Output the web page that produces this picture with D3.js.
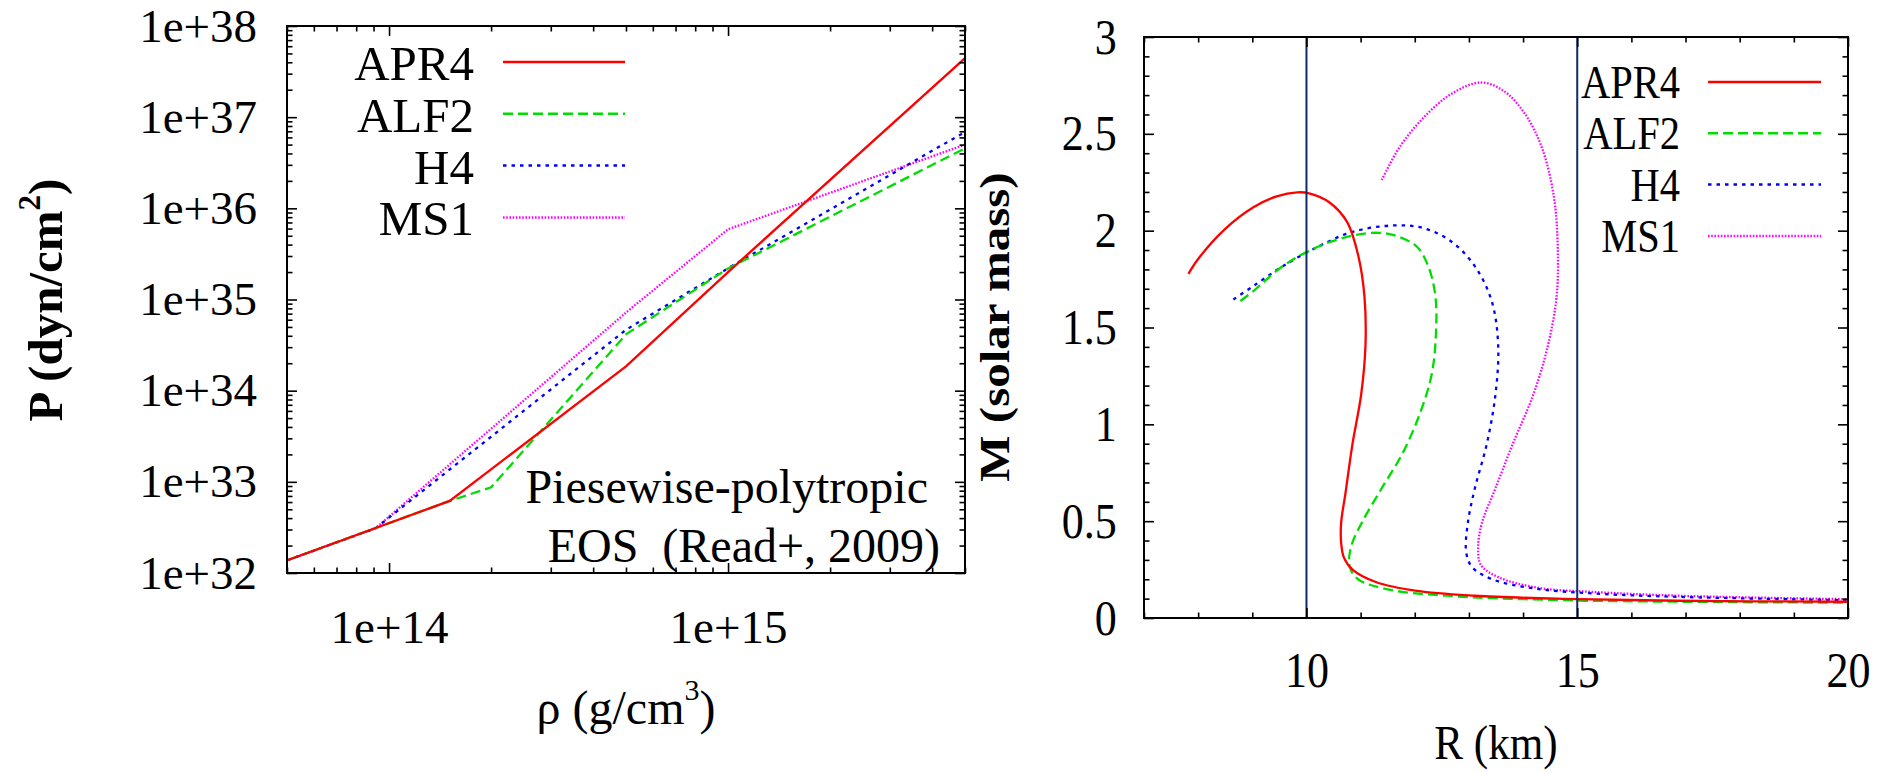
<!DOCTYPE html>
<html>
<head>
<meta charset="utf-8">
<script src="https://cdn.jsdelivr.net/npm/d3@7"></script>
<style>
  body { margin: 0; background: #fff; }
  svg { display: block; }
</style>
</head>
<body>
<svg id="chart"></svg>
<script>
// ---- data ----
const eosNames = ['APR4', 'ALF2', 'H4', 'MS1'];

// left panel: rho (g/cm^3) vs P (dyn/cm^2)
const apr4Rho = [5.01e13, 1.51e14, 5.01e14, 1.0e15, 5.01e15];
const apr4P   = [1.38e32, 6.17e32, 1.86e34, 2.0e35, 4.47e37];
const alf2Rho = [5.01e13, 1.51e14, 2.0e14, 5.01e14, 1.0e15, 5.01e15];
const alf2P   = [1.38e32, 6.17e32, 8.71e32, 4.17e34, 2.19e35, 4.57e36];
const h4Rho   = [5.01e13, 9.12e13, 5.01e14, 1.0e15, 5.01e15];
const h4P     = [1.38e32, 3.09e32, 4.68e34, 2.2e35, 6.92e36];
const ms1Rho  = [5.01e13, 9.12e13, 5.01e14, 1.0e15, 5.01e15];
const ms1P    = [1.38e32, 3.09e32, 7.24e34, 5.89e35, 5.01e36];

const rhoTicks = [1e14, 1e15];
const pTicks = [1e32, 1e33, 1e34, 1e35, 1e36, 1e37, 1e38];

// right panel: R (km) vs M (solar mass)
const apr4R = [7.82, 8.00, 8.49, 9.02, 9.45, 9.83, 10.05, 10.42, 10.75, 10.96, 11.07, 11.09, 11.01, 10.85, 10.72, 10.64, 10.64, 10.69, 10.85, 11.28, 12.04, 13.11, 14.73, 16.88, 20.0];
const apr4M = [1.777, 1.854, 2.007, 2.121, 2.177, 2.198, 2.193, 2.147, 2.045, 1.867, 1.663, 1.408, 1.154, 0.899, 0.644, 0.491, 0.390, 0.313, 0.250, 0.186, 0.140, 0.115, 0.099, 0.089, 0.084];
const alf2R = [8.78, 9.02, 9.56, 10.21, 10.85, 11.34, 11.71, 12.04, 12.25, 12.38, 12.39, 12.31, 12.09, 11.77, 11.39, 11.02, 10.82, 10.80, 10.96, 11.50, 12.58, 14.73, 16.88, 20.0];
const alf2M = [1.637, 1.688, 1.816, 1.917, 1.974, 1.989, 1.968, 1.917, 1.816, 1.663, 1.459, 1.255, 1.052, 0.848, 0.670, 0.491, 0.364, 0.262, 0.199, 0.148, 0.115, 0.092, 0.084, 0.079];
const h4R = [8.65, 9.02, 9.56, 10.21, 10.85, 11.61, 12.15, 12.68, 13.11, 13.42, 13.54, 13.49, 13.33, 13.11, 12.98, 12.95, 13.06, 13.44, 14.19, 15.27, 16.88, 20.0];
const h4M = [1.645, 1.714, 1.816, 1.917, 1.994, 2.027, 2.014, 1.943, 1.816, 1.637, 1.408, 1.154, 0.899, 0.670, 0.491, 0.339, 0.262, 0.199, 0.153, 0.127, 0.109, 0.092];
const ms1R = [11.39, 11.71, 12.15, 12.68, 13.22, 13.65, 14.03, 14.35, 14.57, 14.64, 14.62, 14.46, 14.19, 13.81, 13.49, 13.24, 13.17, 13.22, 13.54, 14.30, 15.27, 16.88, 20.0];
const ms1M = [2.261, 2.427, 2.580, 2.707, 2.765, 2.720, 2.605, 2.427, 2.172, 1.917, 1.663, 1.408, 1.154, 0.899, 0.670, 0.491, 0.364, 0.275, 0.211, 0.155, 0.135, 0.115, 0.097];

const radiusTicks = [10, 15, 20];
const massTicks = [0, 0.5, 1, 1.5, 2, 2.5, 3];
const radiusMarks = [10, 15];

// ---- styles ----
const serif = 'Liberation Serif';
const lineStyle = {
  APR4: {color: '#ff0000', dash: null},
  ALF2: {color: '#00dd00', dash: '10,5'},
  H4:   {color: '#0000ff', dash: '3.5,5'},
  MS1:  {color: '#ff00ff', dash: '1.6,1.6'}
};

const svg = d3.select('#chart').attr('width', 1893).attr('height', 773);

function zipPts(xs, ys) { return xs.map((v, i) => [v, ys[i]]); }

function addText(g, size) {
  return g.append('text').attr('font-family', serif).attr('font-size', size).attr('fill', '#000');
}

function tickLayer(g, makeAxis, transform, values, len, fmt, pad) {
  const axis = makeAxis().tickValues(values).tickSizeInner(-len).tickSizeOuter(0)
      .tickPadding(pad || 0).tickFormat(fmt || (() => ''));
  const layer = g.append('g').attr('transform', transform).call(axis);
  layer.select('.domain').remove();
  layer.selectAll('.tick line').attr('stroke', '#000').attr('stroke-width', 1.6);
  return layer;
}

function notMajor(majors) {
  return v => !majors.some(t => Math.abs(t - v) <= Math.abs(t) * 1e-9 + 1e-9);
}

function drawFrame(g, x, y, c) {
  const b = c.box;
  const xMinor = c.xMinor.filter(notMajor(c.xTicks));
  const yMinor = c.yMinor.filter(notMajor(c.yTicks));

  tickLayer(g, () => d3.axisBottom(x), `translate(0,${b.bottom})`, xMinor, 5.5);
  tickLayer(g, () => d3.axisTop(x), `translate(0,${b.top})`, xMinor, 5.5);
  tickLayer(g, () => d3.axisLeft(y), `translate(${b.left},0)`, yMinor, 5.5);
  tickLayer(g, () => d3.axisRight(y), `translate(${b.right},0)`, yMinor, 5.5);
  tickLayer(g, () => d3.axisTop(x), `translate(0,${b.top})`, c.xTicks, 10);
  tickLayer(g, () => d3.axisRight(y), `translate(${b.right},0)`, c.yTicks, 10);

  const xl = tickLayer(g, () => d3.axisBottom(x), `translate(0,${b.bottom})`, c.xTicks, 10, c.fmt, c.xPad);
  const yl = tickLayer(g, () => d3.axisLeft(y), `translate(${b.left},0)`, c.yTicks, 10, c.fmt, c.yPad);
  [xl, yl].forEach(l => {
    l.attr('font-family', serif).attr('font-size', c.tickFont);
    l.selectAll('.tick text')
      .attr('font-family', serif).attr('font-size', c.tickFont).attr('fill', '#000')
      .attr('transform', c.squeeze === 1 ? null : `scale(${c.squeeze},1)`);
  });

  g.append('rect')
    .attr('x', b.left).attr('y', b.top)
    .attr('width', b.right - b.left).attr('height', b.bottom - b.top)
    .attr('fill', 'none').attr('stroke', '#000').attr('stroke-width', 2);
}

function drawLegend(g, c) {
  eosNames.forEach((name, i) => {
    const yy = c.top + i * c.step;
    addText(g, c.font)
      .attr('transform', `translate(${c.textRight},${yy + c.baseline}) scale(${c.squeeze},1)`)
      .attr('text-anchor', 'end').text(name);
    g.append('line')
      .attr('x1', c.x1).attr('x2', c.x2).attr('y1', yy).attr('y2', yy)
      .attr('stroke', lineStyle[name].color).attr('stroke-width', 2.5)
      .attr('stroke-dasharray', lineStyle[name].dash);
  });
}

// ---- left panel: EOS ----
const left = {
  box: {left: 287, right: 965, top: 26, bottom: 573},
  tickFont: 47, squeeze: 1, xPad: 37, yPad: 30,
  fmt: d => '1e+' + Math.round(Math.log10(d))
};
const xL = d3.scaleLog().domain([5e13, 5e15]).range([left.box.left, left.box.right]);
const yL = d3.scaleLog().domain([1e32, 1e38]).range([left.box.bottom, left.box.top]);
left.xTicks = rhoTicks; left.yTicks = pTicks;
left.xMinor = xL.ticks(); left.yMinor = yL.ticks();

const gL = svg.append('g');
svg.append('clipPath').attr('id', 'clipL').append('rect')
  .attr('x', left.box.left).attr('y', left.box.top)
  .attr('width', left.box.right - left.box.left).attr('height', left.box.bottom - left.box.top);

const eosSeries = {
  APR4: zipPts(apr4Rho, apr4P), ALF2: zipPts(alf2Rho, alf2P),
  H4: zipPts(h4Rho, h4P), MS1: zipPts(ms1Rho, ms1P)
};
const lineL = d3.line().x(d => xL(d[0])).y(d => yL(d[1]));
const curvesL = gL.append('g').attr('clip-path', 'url(#clipL)');
['MS1', 'H4', 'ALF2', 'APR4'].forEach(name => {
  curvesL.append('path').attr('d', lineL(eosSeries[name]))
    .attr('fill', 'none').attr('stroke', lineStyle[name].color).attr('stroke-width', 2.3)
    .attr('stroke-dasharray', lineStyle[name].dash);
});
drawFrame(gL, xL, yL, left);
drawLegend(gL, {top: 62, step: 51.8, baseline: 18, textRight: 474, x1: 503, x2: 625, font: 49, squeeze: 1});

addText(gL, 48).attr('x', 928).attr('y', 503).attr('text-anchor', 'end')
  .text('Piesewise-polytropic');
addText(gL, 48).attr('x', 940).attr('y', 562).attr('text-anchor', 'end')
  .style('white-space', 'pre').text('EOS  (Read+, 2009)');

const tyL = addText(gL, 49).attr('transform', 'translate(62,300) rotate(-90)')
  .attr('text-anchor', 'middle').attr('font-weight', 'bold');
tyL.append('tspan').text('P (dyn/cm');
tyL.append('tspan').attr('font-size', 31).attr('dy', -22).text('2');
tyL.append('tspan').attr('dy', 22).text(')');

const txL = addText(gL, 48).attr('x', 626).attr('y', 724).attr('text-anchor', 'middle');
txL.append('tspan').text('ρ (g/cm');
txL.append('tspan').attr('font-size', 30).attr('dy', -24).text('3');
txL.append('tspan').attr('dy', 24).text(')');

// ---- right panel: mass-radius ----
const right = {
  box: {left: 1144, right: 1848, top: 37, bottom: 618},
  tickFont: 50, squeeze: 0.88, xPad: 33.5, yPad: 31,
  fmt: d3.format('~g')
};
const xR = d3.scaleLinear().domain([7, 20]).range([right.box.left, right.box.right]);
const yR = d3.scaleLinear().domain([0, 3]).range([right.box.bottom, right.box.top]);
right.xTicks = radiusTicks; right.yTicks = massTicks;
right.xMinor = xR.ticks(13); right.yMinor = yR.ticks(30);

const gR = svg.append('g');
svg.append('clipPath').attr('id', 'clipR').append('rect')
  .attr('x', right.box.left).attr('y', right.box.top)
  .attr('width', right.box.right - right.box.left).attr('height', right.box.bottom - right.box.top);

const mrSeries = {
  APR4: zipPts(apr4R, apr4M), ALF2: zipPts(alf2R, alf2M),
  H4: zipPts(h4R, h4M), MS1: zipPts(ms1R, ms1M)
};
const lineR = d3.line().x(d => xR(d[0])).y(d => yR(d[1])).curve(d3.curveCatmullRom.alpha(0.5));
const curvesR = gR.append('g').attr('clip-path', 'url(#clipR)');
['MS1', 'H4', 'ALF2', 'APR4'].forEach(name => {
  curvesR.append('path').attr('d', lineR(mrSeries[name]))
    .attr('fill', 'none').attr('stroke', lineStyle[name].color).attr('stroke-width', 2.3)
    .attr('stroke-dasharray', lineStyle[name].dash);
});
curvesR.selectAll('.rmark').data(radiusMarks).join('line')
  .attr('class', 'rmark')
  .attr('x1', d => xR(d)).attr('x2', d => xR(d))
  .attr('y1', yR(0)).attr('y2', yR(3))
  .attr('stroke', '#0f2a66').attr('stroke-width', 2);

drawFrame(gR, xR, yR, right);
drawLegend(gR, {top: 82, step: 51.3, baseline: 16, textRight: 1680, x1: 1708, x2: 1821, font: 46, squeeze: 0.88});

addText(gR, 49).attr('transform', 'translate(1009,327) scale(0.88,1) rotate(-90)')
  .attr('text-anchor', 'middle').attr('font-weight', 'bold')
  .text('M (solar mass)');
addText(gR, 49).attr('transform', 'translate(1496,759) scale(0.88,1)')
  .attr('text-anchor', 'middle').text('R (km)');
</script>
</body>
</html>
